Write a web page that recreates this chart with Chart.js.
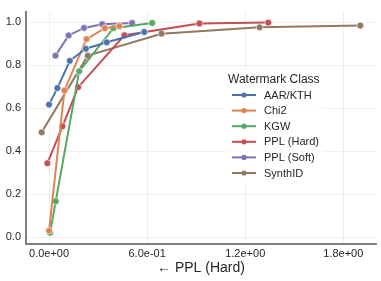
<!DOCTYPE html>
<html>
<head>
<meta charset="utf-8">
<script src="https://cdn.jsdelivr.net/npm/chart.js@4"></script>
<style>
html,body{margin:0;padding:0;background:#fff;}
#wrap{width:381px;height:281px;}
</style>
</head>
<body>
<div id="wrap"><canvas id="c" width="381" height="281"></canvas></div>
<script>
const seriesNames = ["AAR/KTH","Chi2","KGW","PPL (Hard)","PPL (Soft)","SynthID"];
const seriesColors = ["#4C72B0","#DD8452","#55A868","#C44E52","#8172B3","#937860"];

const aarX = [0.000, 0.051, 0.127, 0.225, 0.353, 0.582];
const aarY = [0.617, 0.694, 0.821, 0.877, 0.907, 0.955];
const chiX = [0.000, 0.094, 0.229, 0.341, 0.430];
const chiY = [0.030, 0.683, 0.922, 0.973, 0.982];
const kgwX = [0.006, 0.041, 0.184, 0.394, 0.631];
const kgwY = [0.020, 0.167, 0.772, 0.973, 0.997];
const hardX = [-0.010, 0.082, 0.178, 0.461, 0.920, 1.341];
const hardY = [0.344, 0.516, 0.698, 0.940, 0.995, 0.999];
const softX = [0.039, 0.120, 0.214, 0.325, 0.508];
const softY = [0.845, 0.939, 0.974, 0.991, 0.997];
const synX = [-0.045, 0.237, 0.688, 1.288, 1.904];
const synY = [0.488, 0.845, 0.947, 0.977, 0.985];

const xTicks = [0, 0.6, 1.2, 1.8];
const yTicks = [0, 0.2, 0.4, 0.6, 0.8, 1.0];
const xTitle = "\u2190 PPL (Hard)";
const legendTitle = "Watermark Class";

const allX = [aarX, chiX, kgwX, hardX, softX, synX];
const allY = [aarY, chiY, kgwY, hardY, softY, synY];

const FONT = "'Liberation Sans', Arial, sans-serif";

const datasets = seriesNames.map((n, i) => ({
  label: n,
  data: allX[i].map((x, j) => ({x: x, y: allY[i][j]})),
  borderColor: seriesColors[i],
  backgroundColor: seriesColors[i],
  pointBackgroundColor: seriesColors[i],
  pointBorderColor: '#ffffff',
  pointBorderWidth: 0.6,
  borderWidth: 2,
  pointRadius: 3.4,
  tension: 0
}));

function fmtExp(v) {
  let s = v.toExponential(1);
  return s.replace(/e([+-])(\d)$/, 'e$10$2');
}

const legendPlugin = {
  id: 'insideLegend',
  afterDraw(chart) {
    const ctx = chart.ctx;
    ctx.save();
    ctx.fillStyle = 'rgba(255,255,255,0.8)';
    ctx.fillRect(225, 68, 100, 116);
    ctx.fillStyle = '#262626';
    ctx.font = "12px " + FONT;
    ctx.textBaseline = 'middle';
    ctx.textAlign = 'left';
    ctx.fillText(legendTitle, 228, 80);
    const y0 = 95, dy = 15.6;
    seriesNames.forEach((n, i) => {
      const y = y0 + i * dy;
      ctx.strokeStyle = seriesColors[i];
      ctx.lineWidth = 2;
      ctx.beginPath();
      ctx.moveTo(232, y);
      ctx.lineTo(256, y);
      ctx.stroke();
      ctx.fillStyle = seriesColors[i];
      ctx.beginPath();
      ctx.arc(244, y, 2.6, 0, Math.PI * 2);
      ctx.fill();
      ctx.fillStyle = '#262626';
      ctx.font = "11px " + FONT;
      ctx.fillText(n, 264, y + 0.5);
    });
    ctx.restore();
  }
};

new Chart(document.getElementById('c'), {
  type: 'line',
  data: {datasets: datasets},
  plugins: [legendPlugin],
  options: {
    responsive: false,
    animation: false,
    devicePixelRatio: 1,
    layout: {padding: {top: 4, right: 5, left: 0, bottom: 0}},
    plugins: {legend: {display: false}, tooltip: {enabled: false}},
    scales: {
      x: {
        type: 'linear',
        min: -0.141,
        max: 2.0,
        afterBuildTicks: s => { s.ticks = xTicks.map(v => ({value: v})); },
        afterFit: s => { s.height = 37; },
        ticks: {
          callback: v => fmtExp(v),
          font: {family: FONT, size: 11},
          color: '#262626',
          padding: 3,
          maxRotation: 0
        },
        grid: {color: '#ebebeb', lineWidth: 0.8, drawTicks: false},
        border: {color: '#808080', width: 2, dash: []},
        title: {
          display: true,
          text: xTitle,
          font: {family: FONT, size: 14},
          color: '#262626',
          padding: {top: 0, bottom: 4}
        }
      },
      y: {
        type: 'linear',
        min: -0.032,
        max: 1.05,
        afterBuildTicks: s => { s.ticks = yTicks.map(v => ({value: v})); },
        afterFit: s => { s.width = 26; },
        ticks: {
          callback: v => v.toFixed(1),
          font: {family: FONT, size: 11},
          color: '#262626',
          padding: 5
        },
        grid: {color: '#ebebeb', lineWidth: 0.8, drawTicks: false},
        border: {color: '#808080', width: 2}
      }
    }
  }
});
</script>
</body>
</html>
